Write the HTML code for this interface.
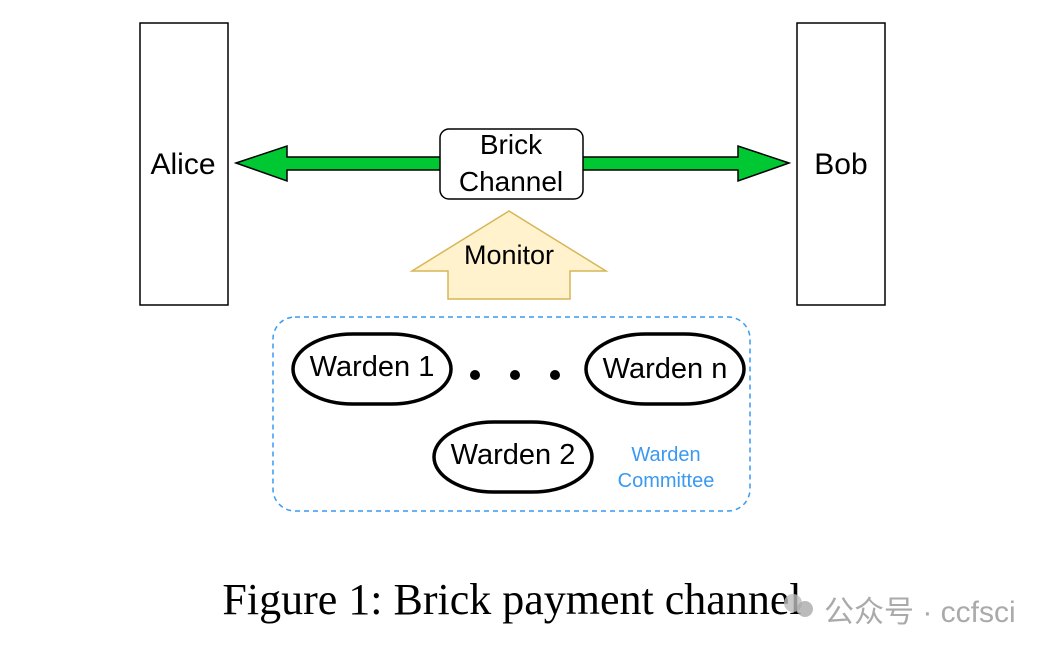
<!DOCTYPE html>
<html><head><meta charset="utf-8"><style>
html,body{margin:0;padding:0;background:#fff;width:1050px;height:654px;overflow:hidden}
svg{display:block}
</style></head><body>
<svg width="1050" height="654" viewBox="0 0 1050 654" xmlns="http://www.w3.org/2000/svg">
<g font-family="Liberation Sans, Arial, sans-serif">
<rect x="140" y="23" width="88" height="282" fill="#fff" stroke="#000" stroke-width="1.5"/>
<text x="183" y="174" font-size="30" text-anchor="middle">Alice</text>
<rect x="797" y="23" width="88" height="282" fill="#fff" stroke="#000" stroke-width="1.5"/>
<text x="841" y="174" font-size="30" text-anchor="middle">Bob</text>
<polygon points="236,163 287,146 287,157 442,157 442,170 287,170 287,181" fill="#00c832" stroke="#000" stroke-width="1.5"/>
<polygon points="789,163 738,146 738,157 581,157 581,170 738,170 738,181" fill="#00c832" stroke="#000" stroke-width="1.5"/>
<rect x="440" y="129" width="143" height="70" rx="9" fill="#fff" stroke="#000" stroke-width="1.5"/>
<text x="511" y="154" font-size="28" text-anchor="middle">Brick</text>
<text x="511" y="191" font-size="28" text-anchor="middle">Channel</text>
<polygon points="509,211 606,271 570,271 570,299 448,299 448,271 412,271" fill="#fff2cc" stroke="#d6b656" stroke-width="1.5"/>
<text x="509" y="264" font-size="27" text-anchor="middle">Monitor</text>
<rect x="273" y="317" width="477" height="194" rx="22" fill="none" stroke="#3a99f0" stroke-width="1.5" stroke-dasharray="5,4"/>
<rect x="293" y="334" width="158" height="70" rx="60" ry="35" fill="#fff" stroke="#000" stroke-width="3.5"/>
<text x="372" y="376" font-size="29" text-anchor="middle">Warden 1</text>
<rect x="586" y="334" width="158" height="70" rx="60" ry="35" fill="#fff" stroke="#000" stroke-width="3.5"/>
<text x="665" y="378" font-size="29" text-anchor="middle">Warden n</text>
<rect x="434" y="422" width="158" height="70" rx="60" ry="35" fill="#fff" stroke="#000" stroke-width="3.5"/>
<text x="513" y="464" font-size="29" text-anchor="middle">Warden 2</text>
<circle cx="475" cy="375" r="5"/><circle cx="515" cy="375" r="5"/><circle cx="555" cy="375" r="5"/>
<text x="666" y="461" font-size="20" fill="#3a99f0" text-anchor="middle">Warden</text>
<text x="666" y="487" font-size="20" fill="#3a99f0" text-anchor="middle">Committee</text>
</g>
<text x="512" y="614" font-family="Liberation Serif, Times New Roman, serif" font-size="44" text-anchor="middle">Figure 1: Brick payment channel</text>
<circle cx="793" cy="603" r="9" fill="#bbb" opacity="0.8"/><circle cx="805" cy="609" r="8" fill="#aaa" opacity="0.8"/>
<text x="824" y="622" font-family="Liberation Sans, Noto Sans CJK SC, sans-serif" font-size="30" fill="#aaa">公众号 · ccfsci</text>
</svg>
</body></html>
